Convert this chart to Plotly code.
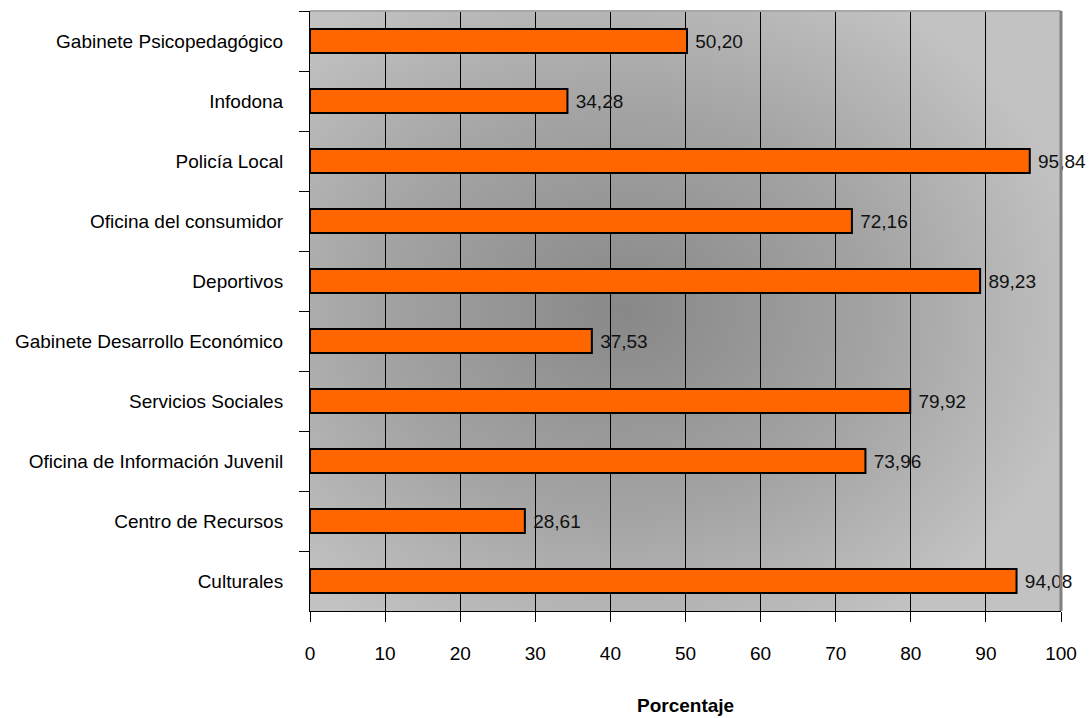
import base64
import plotly.graph_objects as go

categories = [
    "Gabinete Psicopedagógico",
    "Infodona",
    "Policía Local",
    "Oficina del consumidor",
    "Deportivos",
    "Gabinete Desarrollo Económico",
    "Servicios Sociales",
    "Oficina de Información Juvenil",
    "Centro de Recursos",
    "Culturales",
]
values = [50.20, 34.28, 95.84, 72.16, 89.23, 37.53, 79.92, 73.96, 28.61, 94.08]
x_ticks = [0, 10, 20, 30, 40, 50, 60, 70, 80, 90, 100]
x_title = "Porcentaje"

FONT = "Liberation Sans, Arial, sans-serif"
FS = 19

svg = (
    '<svg xmlns="http://www.w3.org/2000/svg" width="751" height="600" viewBox="0 0 751 600" preserveAspectRatio="none">'
    '<defs><radialGradient id="g" cx="0.42" cy="0.5" r="0.62" gradientUnits="objectBoundingBox">'
    '<stop offset="0" stop-color="#888888"/>'
    '<stop offset="0.55" stop-color="#a4a4a4"/>'
    '<stop offset="1" stop-color="#c2c2c2"/>'
    '</radialGradient></defs>'
    '<rect x="0" y="0" width="751" height="600" fill="url(#g)"/></svg>'
)
svg_uri = "data:image/svg+xml;base64," + base64.b64encode(svg.encode()).decode()

fig = go.Figure(
    go.Bar(
        x=values,
        y=categories,
        orientation="h",
        width=0.4,
        marker=dict(color="#FF6600", line=dict(color="#000000", width=2)),
        texttemplate=" %{x:.2f}",
        textposition="outside",
        textfont=dict(family=FONT, size=FS, color="#111111"),
        cliponaxis=False,
        hoverinfo="skip",
    )
)

fig.update_layout(
    width=1091,
    height=718,
    margin=dict(l=310, r=30, t=11, b=107, autoexpand=False),
    paper_bgcolor="white",
    plot_bgcolor="rgba(0,0,0,0)",
    separators=",.",
    showlegend=False,
    font=dict(family=FONT, size=FS, color="#000000"),
    images=[
        dict(
            source=svg_uri,
            xref="paper",
            yref="paper",
            x=0,
            y=1,
            sizex=1,
            sizey=1,
            sizing="stretch",
            xanchor="left",
            yanchor="top",
            layer="below",
        )
    ],
    shapes=[
        dict(type="line", xref="paper", yref="paper", x0=0, x1=1, y0=1, y1=1,
             line=dict(color="#a8a8a8", width=2)),
        dict(type="line", xref="paper", yref="paper", x0=1, x1=1, y0=0, y1=1,
             line=dict(color="#808080", width=3)),
    ],
    annotations=[
        dict(
            text="<b>" + x_title + "</b>",
            xref="paper",
            yref="paper",
            x=0.5,
            y=0,
            xanchor="center",
            yanchor="middle",
            yshift=-94,
            showarrow=False,
            font=dict(family=FONT, size=FS, color="#000000"),
        )
    ],
)

fig.update_xaxes(
    range=[0, 100],
    tickvals=x_ticks,
    ticktext=[str(v) for v in x_ticks],
    showgrid=True,
    gridcolor="#000000",
    gridwidth=1,
    zeroline=False,
    showline=True,
    linecolor="#000000",
    linewidth=1,
    ticks="outside",
    ticklen=10,
    tickcolor="#000000",
    tickfont=dict(family=FONT, size=FS, color="#000000"),
    ticklabelstandoff=15,
    automargin=False,
)

fig.update_yaxes(
    categoryorder="array",
    categoryarray=categories,
    autorange="reversed",
    showgrid=False,
    showline=True,
    linecolor="#000000",
    linewidth=1,
    ticks="outside",
    tickson="boundaries",
    ticklen=10,
    tickcolor="#000000",
    tickfont=dict(family=FONT, size=FS, color="#000000"),
    ticklabelstandoff=22,
    automargin=False,
)

fig.write_html(
    "out.html",
    config={"displayModeBar": False},
    post_script="document.body.style.margin='0';document.body.style.overflow='hidden';",
)
